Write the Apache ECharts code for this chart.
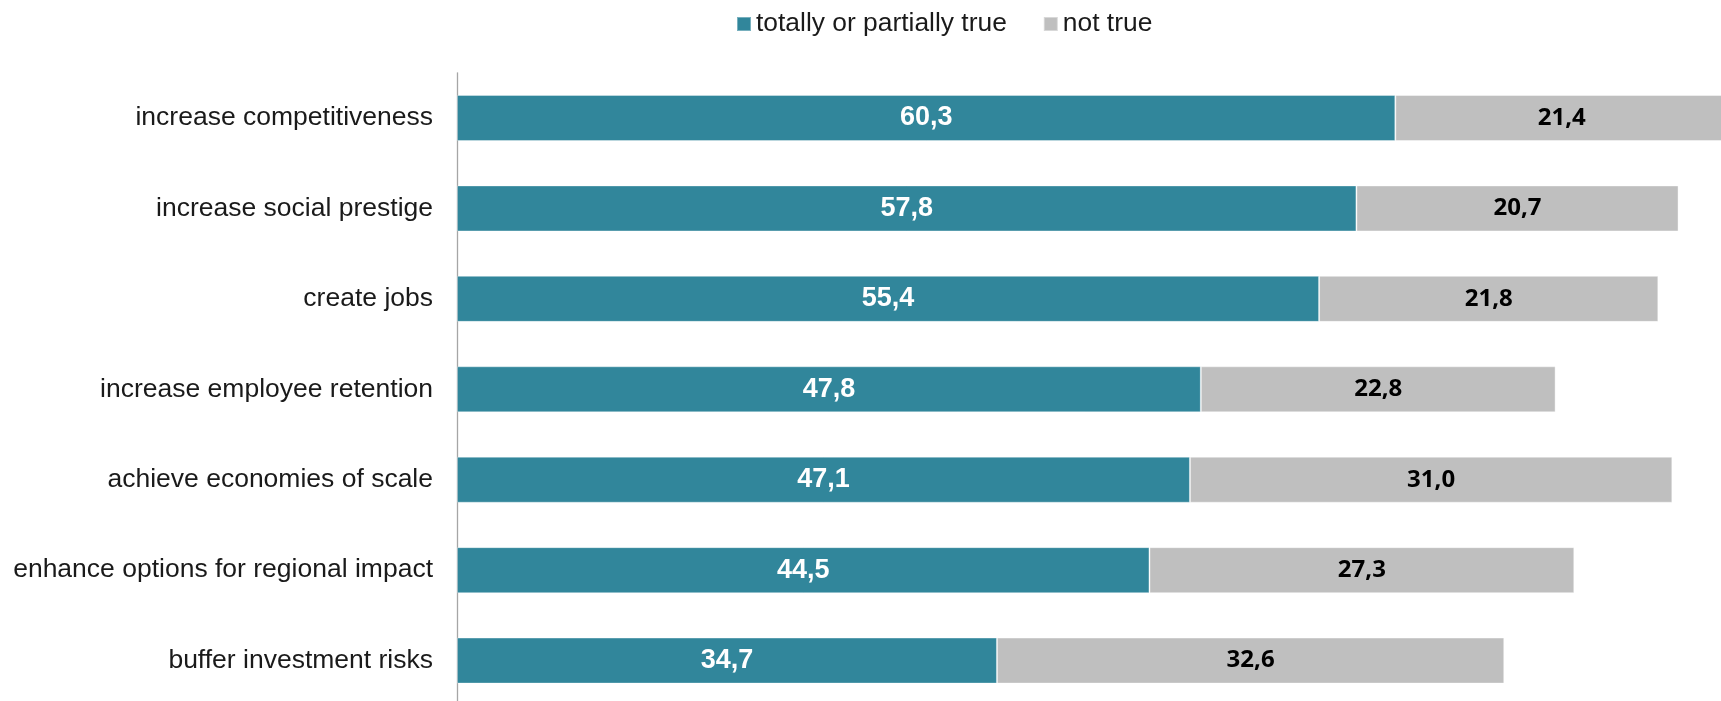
<!DOCTYPE html>
<html>
<head>
<meta charset="utf-8">
<script src="https://cdn.jsdelivr.net/npm/echarts@6/dist/echarts.min.js"></script>
<style>
html,body{margin:0;padding:0;background:#fff;}
#chart{width:1721px;height:701px;}
</style>
</head>
<body>
<div id="chart"></div>
<script>
const categories = [
  'increase competitiveness',
  'increase social prestige',
  'create jobs',
  'increase employee retention',
  'achieve economies of scale',
  'enhance options for regional impact',
  'buffer investment risks'
];
const seriesNames = ['totally or partially true', 'not true'];
const trueValues = [60.3, 57.8, 55.4, 47.8, 47.1, 44.5, 34.7];
const notTrueValues = [21.4, 20.7, 21.8, 22.8, 31.0, 27.3, 32.6];

const fmt = p => p.value.toFixed(1).replace('.', ',');

const chart = echarts.init(document.getElementById('chart'));
chart.setOption({
  animation: false,
  backgroundColor: '#ffffff',
  legend: {
    top: 6,
    left: 731,
    itemWidth: 14,
    itemHeight: 14,
    itemGap: 36,
    icon: 'rect',
    textStyle: { fontFamily: 'Liberation Sans, Arial, sans-serif', fontSize: 26.4, color: '#1a1a1a' },
    data: seriesNames
  },
  grid: { left: 457, top: 72.8, width: 1276, height: 633, containLabel: false, outerBoundsMode: 'none' },
  xAxis: {
    type: 'value',
    min: 0,
    max: 82,
    show: false
  },
  yAxis: {
    type: 'category',
    inverse: true,
    data: categories,
    axisLine: { show: true, lineStyle: { color: '#a6a6a6', width: 1.3 } },
    axisTick: { show: false },
    axisLabel: {
      margin: 24,
      fontFamily: 'Liberation Sans, Arial, sans-serif',
      fontSize: 26.5,
      color: '#1a1a1a'
    }
  },
  series: [
    {
      name: seriesNames[0],
      type: 'bar',
      stack: 'total',
      barWidth: 46,
      data: trueValues,
      itemStyle: { color: '#31869b', borderColor: 'rgba(255,255,255,0.35)', borderWidth: 1 },
      label: {
        show: true,
        position: 'inside',
        formatter: fmt,
        color: '#ffffff',
        fontFamily: 'Liberation Sans, Arial, sans-serif',
        fontWeight: 'bold',
        fontSize: 27
      }
    },
    {
      name: seriesNames[1],
      type: 'bar',
      stack: 'total',
      barWidth: 46,
      data: notTrueValues,
      itemStyle: { color: '#bfbfbf', borderColor: 'rgba(255,255,255,0.4)', borderWidth: 1 },
      label: {
        show: true,
        position: 'inside',
        formatter: fmt,
        color: '#000000',
        fontFamily: 'Open Sans, sans-serif',
        fontWeight: 'bold',
        fontSize: 24
      }
    }
  ]
});
</script>
</body>
</html>
